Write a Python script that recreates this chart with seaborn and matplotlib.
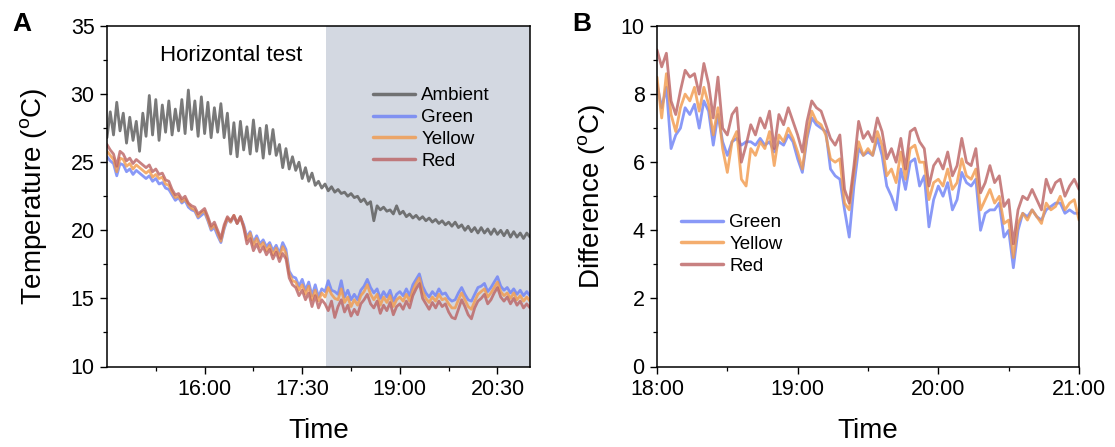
import matplotlib
matplotlib.use("Agg")
import matplotlib.pyplot as plt
import numpy as np
import pandas as pd
import seaborn as sns
from matplotlib.ticker import FixedLocator, FuncFormatter, MultipleLocator

# ---- panel A: horizontal test, sampled every 3 min from 14:30 ----
A_START = 14 * 60 + 30
A_STEP = 3
SHADE_START = 17 * 60 + 52

ambient = [
    26.8, 28.7, 27.0, 29.4, 27.3, 28.6, 26.4, 28.3, 26.6, 28.0,
    25.8, 28.6, 26.9, 29.9, 27.0, 29.6, 26.6, 29.2, 27.2, 29.5,
    27.0, 28.9, 27.3, 29.6, 27.1, 30.3, 27.4, 29.5, 26.9, 29.8,
    27.1, 29.4, 26.8, 29.0, 27.2, 29.3, 26.8, 28.6, 25.6, 27.9,
    25.4, 28.0, 25.9, 27.6, 25.6, 28.1, 25.8, 27.5, 25.3, 27.7,
    25.6, 27.4, 25.5, 26.3, 24.6, 26.0, 24.5, 25.4, 24.4, 25.0,
    23.8, 24.6, 23.6, 24.2, 23.3, 23.6, 23.1, 23.4, 22.9, 23.2,
    22.8, 23.0, 22.7, 22.8, 22.5, 22.7, 22.4, 22.5, 22.1, 22.3,
    21.9, 22.1, 20.7, 21.8, 21.5, 21.7, 21.4, 21.5, 21.2, 21.8,
    21.2, 21.4, 21.0, 21.2, 20.9, 21.1, 20.8, 21.0, 20.7, 20.9,
    20.6, 20.8, 20.5, 20.7, 20.4, 20.6, 20.3, 20.6, 20.2, 20.4,
    20.0, 20.3, 19.9, 20.2, 19.8, 20.2, 19.8, 20.1, 19.7, 20.1,
    19.7, 20.0, 19.6, 20.0, 19.5, 19.9, 19.5, 19.8, 19.4, 19.8,
    19.5,
]
green_a = [
    25.4, 25.1, 24.9, 24.0, 24.9, 24.8, 24.3, 24.5, 24.1, 24.4,
    24.2, 24.0, 23.8, 24.0, 23.6, 23.8, 23.4, 23.5, 23.1, 23.0,
    22.6, 22.2, 22.4, 22.0, 22.2, 21.7, 21.5, 21.4, 20.9, 21.1,
    21.3, 20.7, 20.0, 20.2, 19.6, 19.1, 20.1, 20.8, 20.6, 21.0,
    20.5, 21.0, 20.4, 19.5, 19.9, 19.1, 19.6, 19.0, 19.3, 18.8,
    19.1, 18.5, 18.9, 18.3, 19.1, 18.6, 17.0, 16.6, 16.5, 15.9,
    16.4, 15.6, 16.2, 15.2, 16.0, 15.1, 15.7, 15.5, 16.3, 15.6,
    15.5, 15.3, 16.3, 15.1, 15.6, 14.9, 15.3, 14.9, 15.6, 15.9,
    16.4, 15.8, 15.4, 15.7, 15.0, 15.5, 15.1, 15.6, 14.8, 15.3,
    15.5, 15.2, 15.7, 15.2, 16.0, 16.4, 16.8, 15.9, 15.4, 15.1,
    15.5, 15.2, 15.7, 15.3, 15.4, 15.0, 14.8, 14.9, 15.4, 15.8,
    15.3, 14.9, 14.8, 15.3, 15.8, 15.9, 16.1, 15.5, 15.8, 16.2,
    16.6, 15.9, 15.6, 15.8, 15.4, 15.7, 15.3, 15.6, 15.2, 15.5,
    15.2,
]
yellow_a = [
    25.8, 25.5, 25.2, 24.3, 25.3, 25.2, 24.7, 24.9, 24.5, 24.8,
    24.6, 24.4, 24.2, 24.4, 23.9, 24.1, 23.8, 23.9, 23.4, 23.3,
    22.8, 22.4, 22.5, 22.1, 22.3, 21.9, 21.6, 21.5, 21.0, 21.3,
    21.4, 20.8, 20.1, 20.4, 19.8, 19.2, 20.2, 20.9, 20.6, 21.1,
    20.5, 21.0, 20.3, 19.3, 19.8, 18.9, 19.4, 18.8, 19.1, 18.5,
    18.9, 18.2, 18.7, 18.0, 18.8, 18.3, 16.8, 16.3, 16.2, 15.6,
    16.0, 15.3, 15.9, 14.9, 15.6, 14.8, 15.4, 15.1, 15.8, 15.3,
    15.0, 14.9, 15.7, 14.7, 15.1, 14.4, 14.9, 14.5, 15.2, 15.5,
    16.0, 15.3, 14.9, 15.3, 14.5, 15.1, 14.7, 15.2, 14.4, 14.9,
    15.1, 14.8, 15.3, 14.8, 15.6, 16.1, 16.5, 15.5, 15.0, 14.7,
    15.1, 14.8, 15.3, 14.9, 15.0, 14.6, 14.3, 14.3, 14.9, 15.4,
    14.9, 14.4, 14.2, 14.8, 15.3, 15.5, 15.7, 15.1, 15.4, 15.8,
    16.2, 15.5, 15.2, 15.4, 15.0, 15.4, 14.9, 15.2, 14.8, 15.1,
    14.8,
]
red_a = [
    26.3, 25.9, 25.6, 24.7, 25.8, 25.6, 25.1, 25.3, 24.9, 25.2,
    25.0, 24.8, 24.6, 24.8, 24.3, 24.5, 24.1, 24.2, 23.7, 23.6,
    23.0, 22.6, 22.7, 22.3, 22.5, 22.0, 21.8, 21.7, 21.2, 21.4,
    21.6, 21.0, 20.3, 20.6, 20.0, 19.4, 20.4, 21.0, 20.7, 21.1,
    20.5, 21.0, 20.2, 19.0, 19.4, 18.5, 19.0, 18.4, 18.8, 18.2,
    18.6, 17.9, 18.4, 17.7, 18.3, 17.9, 16.5, 16.0, 15.8, 15.2,
    15.6, 14.9, 15.4, 14.4, 15.2, 14.3, 14.9, 14.6, 14.1, 14.8,
    13.6, 14.4, 14.9, 14.0, 14.5, 13.7, 14.2, 13.8, 14.6, 14.9,
    15.3, 14.6, 14.3, 14.8, 13.9, 14.5, 14.1, 14.7, 13.8, 14.4,
    14.6, 14.2, 14.8, 14.3, 15.2, 15.7, 16.1, 15.0, 14.6, 14.2,
    14.7, 14.3, 14.8, 14.4, 14.6, 14.0, 13.6, 13.5, 14.2, 14.9,
    14.4, 13.8, 13.5, 14.3, 14.8, 15.0, 15.3, 14.6, 14.9, 15.4,
    15.8, 15.1, 14.8, 15.1, 14.6, 15.0, 14.5, 14.8, 14.3, 14.6,
    14.3,
]

# ---- panel B: ambient minus sample, every 2 min from 18:00 ----
B_START = 18 * 60
B_STEP = 2

green_b = [
    8.3, 7.6, 8.2, 6.4, 6.8, 7.0, 7.6, 7.4, 7.7, 7.0,
    7.8, 7.5, 6.5, 7.4, 6.6, 6.2, 6.6, 6.7, 6.5, 6.6,
    6.6, 6.5, 6.7, 6.5, 6.6, 6.3, 6.6, 6.5, 6.8, 6.6,
    6.1, 5.7, 6.7, 7.3, 7.1, 7.0, 6.9, 5.8, 5.6, 5.5,
    4.6, 3.8, 5.3, 6.4, 6.2, 6.3, 6.2, 6.7, 6.2, 5.3,
    5.0, 4.6, 5.8, 5.2, 6.0, 6.1, 5.3, 5.6, 4.1, 4.9,
    5.3, 5.0, 5.4, 4.6, 4.9, 5.7, 5.4, 5.3, 5.5, 4.0,
    4.5, 4.6, 4.6, 4.8, 3.8, 4.0, 2.9, 4.0, 4.5, 4.4,
    4.6, 4.4, 4.3, 4.6, 4.7, 4.8, 4.8, 4.5, 4.6, 4.5,
    4.5,
]
yellow_b = [
    8.5, 7.3, 8.6, 7.4, 6.9, 7.6, 8.0, 7.8, 8.2, 7.5,
    8.2, 7.7, 6.8, 7.6, 6.4, 5.7, 6.6, 6.9, 5.5, 5.3,
    6.4, 6.2, 6.6, 6.4, 6.9, 5.9, 6.8, 6.6, 7.0, 6.7,
    6.3, 5.8, 6.8, 7.5, 7.2, 7.1, 6.8, 6.1, 6.0, 6.1,
    4.8, 4.6, 5.7, 6.6, 6.2, 6.4, 6.2, 6.9, 6.5, 5.6,
    5.8, 5.4, 6.3, 5.5, 6.4, 6.5, 6.0, 6.0, 4.9, 5.4,
    5.5, 5.3, 5.8, 5.2, 5.4, 6.1, 5.6, 5.5, 5.8, 4.6,
    4.9, 5.2, 4.8, 5.0, 4.2, 4.3, 3.2, 4.2, 4.5, 4.3,
    4.6, 4.4, 4.2, 4.8, 4.6, 4.7, 5.0, 4.6, 4.8, 4.9,
    4.3,
]
red_b = [
    9.3, 8.8, 9.2, 7.8, 7.4, 8.1, 8.7, 8.5, 8.6, 8.0,
    8.9, 8.3, 7.3, 8.5, 7.0, 6.8, 7.4, 7.6, 6.0, 6.5,
    7.1, 6.8, 7.3, 7.0, 7.5, 6.4, 7.4, 7.1, 7.6, 7.2,
    6.8, 6.3, 7.2, 7.8, 7.6, 7.5, 7.1, 6.7, 6.5, 6.8,
    5.2, 4.8, 5.9, 7.2, 6.7, 6.9, 6.6, 7.3, 6.9, 6.1,
    6.4, 6.0, 6.7, 5.8, 6.9, 7.0, 6.6, 6.4, 5.3, 5.9,
    6.1, 5.8, 6.3, 5.6, 5.9, 6.7, 6.0, 5.9, 6.4, 5.1,
    5.4, 5.9, 5.4, 5.6, 4.7, 4.9, 3.6, 4.6, 5.0, 4.9,
    5.2, 4.9, 4.6, 5.5, 5.1, 5.4, 5.5, 5.0, 5.3, 5.5,
    5.2,
]

COLORS = {
    "Ambient": "#575757",
    "Green": "#6c80f6",
    "Yellow": "#f2994a",
    "Red": "#bb6262",
}


def hhmm(x, pos=None):
    m = int(round(x))
    return f"{m // 60:02d}:{m % 60:02d}"


def long_frame(start, step, series):
    n = len(next(iter(series.values())))
    minutes = start + step * np.arange(n)
    parts = [pd.DataFrame({"minute": minutes, "value": v, "series": k}) for k, v in series.items()]
    return pd.concat(parts, ignore_index=True)


def style_axis(ax):
    for side in ["left", "right", "top", "bottom"]:
        ax.spines[side].set_visible(True)
        ax.spines[side].set_color("black")
        ax.spines[side].set_linewidth(1.1)
    ax.tick_params(which="major", direction="out", length=5, width=1.0, labelsize=15.5,
                   pad=4, top=False, right=False, color="black", labelcolor="black")
    ax.tick_params(which="minor", direction="out", length=3, width=0.9, top=False, right=False,
                   color="black")
    ax.xaxis.set_major_formatter(FuncFormatter(hhmm))
    ax.xaxis.set_label_coords(0.5, -0.15)


sns.set_theme(style="ticks")
plt.rcParams["font.family"] = ["Liberation Sans", "DejaVu Sans"]
plt.rcParams["mathtext.fontset"] = "custom"
plt.rcParams["mathtext.rm"] = "Liberation Sans"
plt.rcParams["text.color"] = "black"
plt.rcParams["axes.labelcolor"] = "black"

fig = plt.figure(figsize=(11.15, 4.47), dpi=100)
ax_a = fig.add_axes([107 / 1115, 80.5 / 447, 423 / 1115, 340.5 / 447])
ax_b = fig.add_axes([657 / 1115, 80.5 / 447, 422 / 1115, 340.5 / 447])

# panel A
df_a = long_frame(A_START, A_STEP, {
    "Ambient": ambient, "Green": green_a, "Yellow": yellow_a, "Red": red_a,
})
ax_a.axvspan(SHADE_START, 21 * 60, color="#d3d8e1", lw=0, zorder=0)
sns.lineplot(data=df_a, x="minute", y="value", hue="series", palette=COLORS,
             hue_order=["Ambient", "Green", "Yellow", "Red"], estimator=None,
             sort=False, linewidth=2.0, alpha=0.8, ax=ax_a)
ax_a.set_xlim(A_START, 21 * 60)
ax_a.set_ylim(10, 35)
ax_a.xaxis.set_major_locator(FixedLocator([960, 1050, 1140, 1230]))
ax_a.xaxis.set_minor_locator(FixedLocator([915, 1005, 1095, 1185]))
ax_a.yaxis.set_major_locator(MultipleLocator(5))
ax_a.yaxis.set_minor_locator(MultipleLocator(2.5))
style_axis(ax_a)
ax_a.set_xlabel("Time", fontsize=20)
ax_a.set_ylabel("Temperature ($^{\\mathrm{o}}$C)", fontsize=20)
ax_a.yaxis.set_label_coords(-0.134, 0.5)
ax_a.text(0.293, 0.912, "Horizontal test", transform=ax_a.transAxes,
          ha="center", va="center", fontsize=16)
h, l = ax_a.get_legend_handles_labels()
leg = ax_a.legend(h, l, loc="upper left", bbox_to_anchor=(0.612, 0.842), frameon=False,
                  fontsize=13.5, handlelength=2.2, handletextpad=0.35, labelspacing=0.25,
                  borderaxespad=0)
for line in leg.get_lines():
    line.set_linewidth(2.5)

# panel B
df_b = long_frame(B_START, B_STEP, {
    "Green": green_b, "Yellow": yellow_b, "Red": red_b,
})
sns.lineplot(data=df_b, x="minute", y="value", hue="series", palette=COLORS,
             hue_order=["Green", "Yellow", "Red"], estimator=None,
             sort=False, linewidth=2.0, alpha=0.8, ax=ax_b)
ax_b.set_xlim(B_START, 21 * 60)
ax_b.set_ylim(0, 10)
ax_b.xaxis.set_major_locator(MultipleLocator(60))
ax_b.xaxis.set_minor_locator(MultipleLocator(30))
ax_b.yaxis.set_major_locator(MultipleLocator(2))
ax_b.yaxis.set_minor_locator(MultipleLocator(1))
style_axis(ax_b)
ax_b.set_xlabel("Time", fontsize=20)
ax_b.set_ylabel("Difference ($^{\\mathrm{o}}$C)", fontsize=20)
ax_b.yaxis.set_label_coords(-0.116, 0.5)
h, l = ax_b.get_legend_handles_labels()
leg = ax_b.legend(h, l, loc="upper left", bbox_to_anchor=(0.04, 0.47), frameon=False,
                  fontsize=13.5, handlelength=2.2, handletextpad=0.35, labelspacing=0.25,
                  borderaxespad=0)
for line in leg.get_lines():
    line.set_linewidth(2.5)

fig.text(12 / 1115, 1 - 12 / 447, "A", fontsize=19, fontweight="bold", ha="left", va="top")
fig.text(572 / 1115, 1 - 12 / 447, "B", fontsize=19, fontweight="bold", ha="left", va="top")

fig.savefig("out.png", dpi=100)
